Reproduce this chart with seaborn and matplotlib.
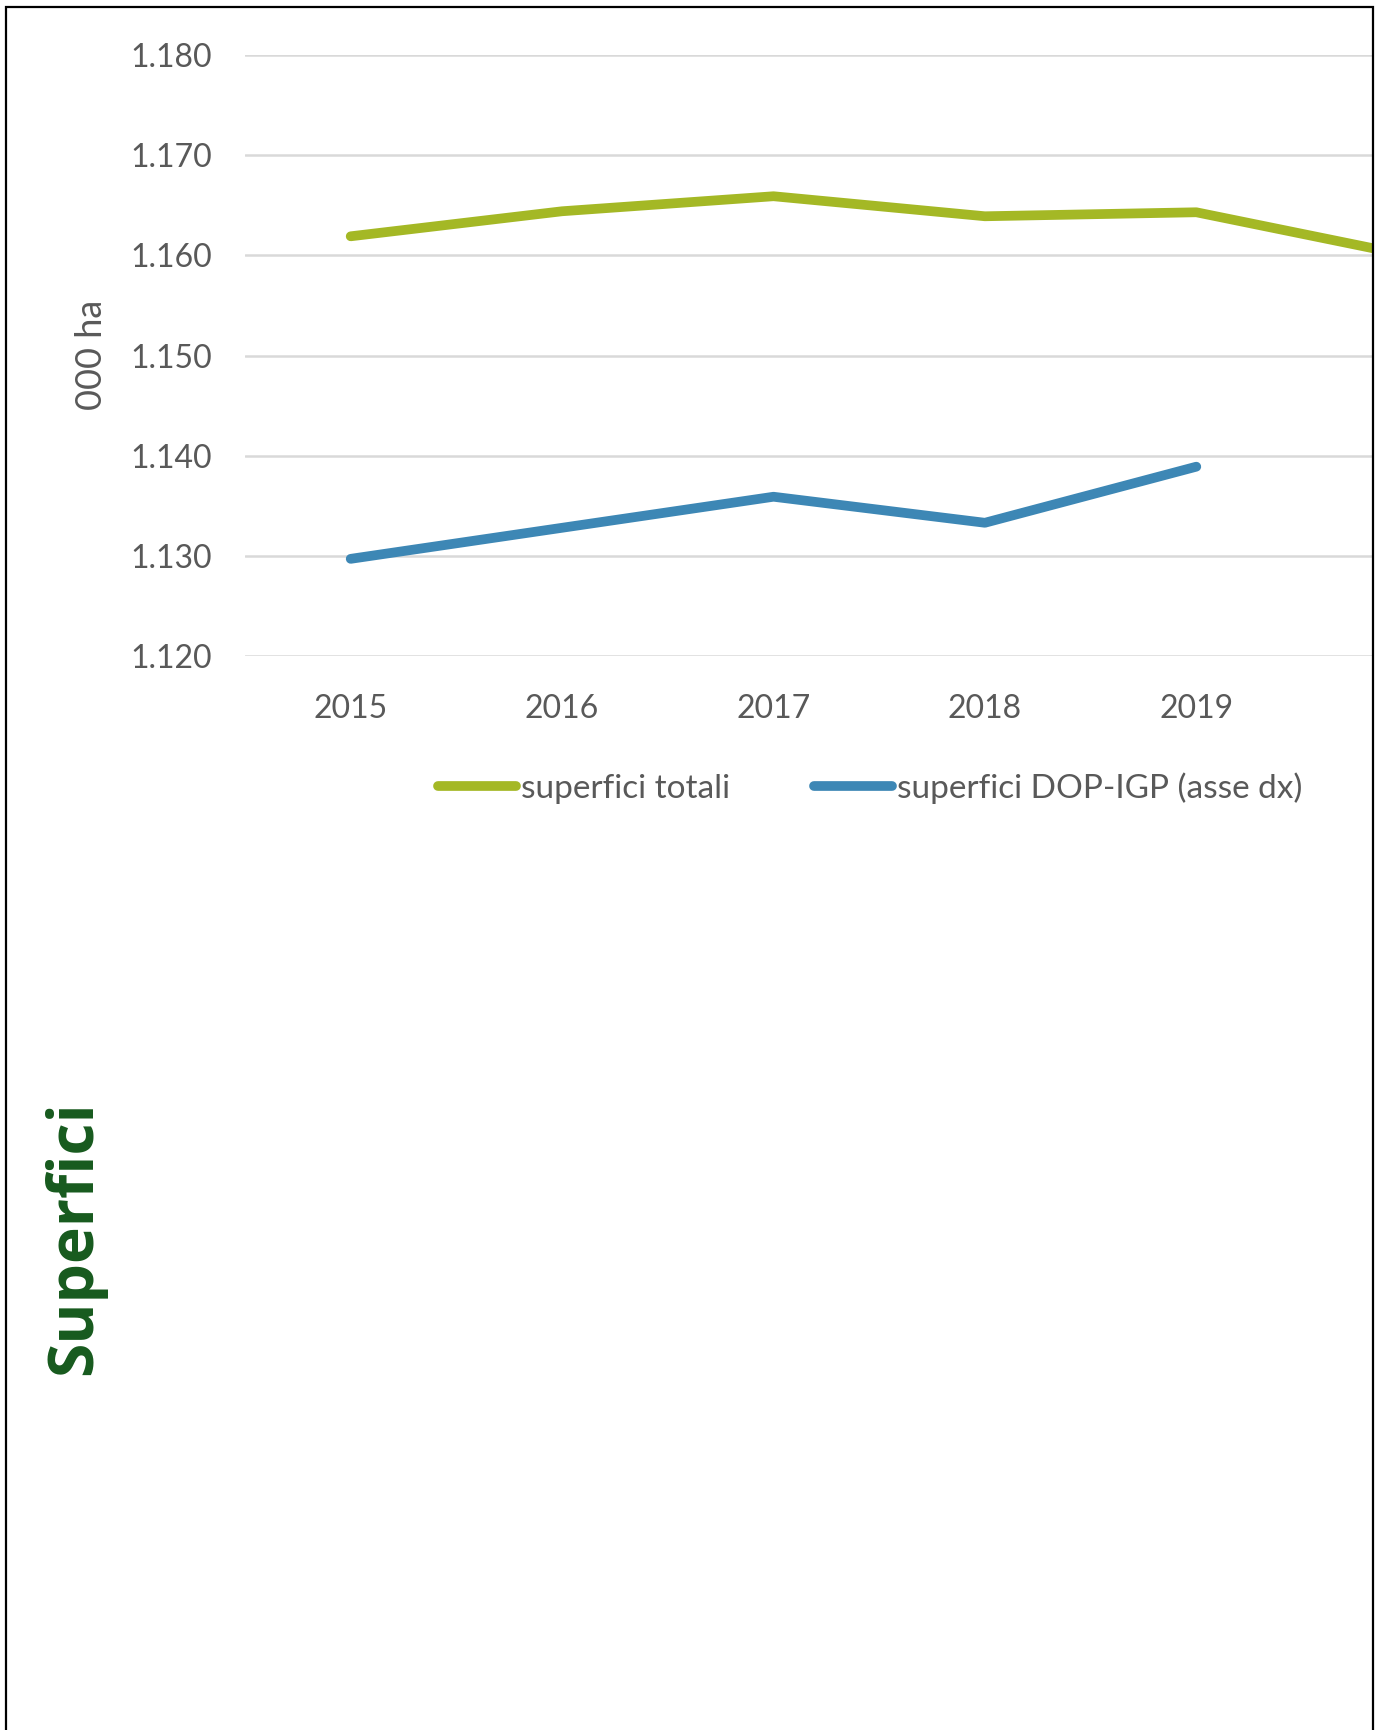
import pandas as pd
import numpy as np

import matplotlib
matplotlib.use("Agg")
import matplotlib.pyplot as plt
from matplotlib.patches import Rectangle
import seaborn as sns

# data (000 ha)
years = [2015, 2016, 2017, 2018, 2019, 2020]
superfici_totali = [1161.9, 1164.4, 1165.9, 1163.9, 1164.3, 1160.0]
superfici_dop_igp = [1129.7, 1132.8, 1135.9, 1133.3, 1138.9, np.nan]
y_ticks = [1120, 1130, 1140, 1150, 1160, 1170, 1180]

GREEN = "#a4b825"
BLUE = "#3d87b5"
GRAY = "#595959"

sns.set_style("white")
plt.rcParams["font.family"] = ["Lato", "DejaVu Sans"]

W, H = 1383, 1730
fig = plt.figure(figsize=(W / 100, H / 100), dpi=100)

# axes: left edge 245 px, right edge cut by the border at 1372 px
left, right, top, bottom = 245, 1372, 55, 656
ax = fig.add_axes([left / W, 1 - bottom / H, (right - left) / W, (bottom - top) / H])

data = pd.DataFrame({"anno": years,
                     "superfici totali": superfici_totali,
                     "superfici DOP-IGP (asse dx)": superfici_dop_igp})

sns.lineplot(data=data, x="anno", y="superfici totali", ax=ax, color=GREEN,
             linewidth=7, solid_capstyle="round", label="superfici totali")
sns.lineplot(data=data, x="anno", y="superfici DOP-IGP (asse dx)", ax=ax, color=BLUE,
             linewidth=7, solid_capstyle="round", label="superfici DOP-IGP (asse dx)")

# category spacing 211.4 px, so the right edge sits at 5.331 categories
ax.set_xlim(2014.5, 2014.5 + (right - left) / 211.4)
ax.set_ylim(1120, 1180)
ax.set_yticks(y_ticks)
ax.set_yticklabels([f"{v:,.0f}".replace(",", ".") for v in y_ticks])
ax.set_xticks(years[:5])
ax.set_xticklabels([str(y) for y in years[:5]])

ax.grid(axis="y", color="#d9d9d9", linewidth=1.8)
ax.set_axisbelow(True)
for s in ax.spines.values():
    s.set_visible(False)
ax.tick_params(axis="y", length=0, pad=24, labelsize=23, labelcolor=GRAY)
ax.tick_params(axis="x", length=0, pad=27, labelsize=23, labelcolor=GRAY)
ax.set_xlabel("")
ax.set_ylabel("")

fig.text(92 / W, 1 - 355 / H, "000 ha", rotation=90, ha="center", va="center",
         fontsize=26, color=GRAY)

handles, labels = ax.get_legend_handles_labels()
ax.get_legend().remove()
leg = fig.legend(handles, labels, loc="center", bbox_to_anchor=(870 / W, 1 - 788 / H),
                 ncol=2, frameon=False, fontsize=24, handlelength=2.35,
                 handletextpad=0.15, columnspacing=2.5)
for t in leg.get_texts():
    t.set_color(GRAY)

fig.text(75 / W, 1 - 1238 / H, "Superfici", rotation=90, ha="center", va="center",
         fontsize=45, fontweight="bold", color="#175a1e", family=["Open Sans", "DejaVu Sans"])

# outer frame (bottom is cut off)
fig.patches.append(Rectangle((5.5 / W, -0.01), (1373 - 5.5) / W, 1.01 - 7 / H,
                             transform=fig.transFigure, fill=False,
                             edgecolor="black", linewidth=1.6))

fig.savefig("out.png", dpi=100)
